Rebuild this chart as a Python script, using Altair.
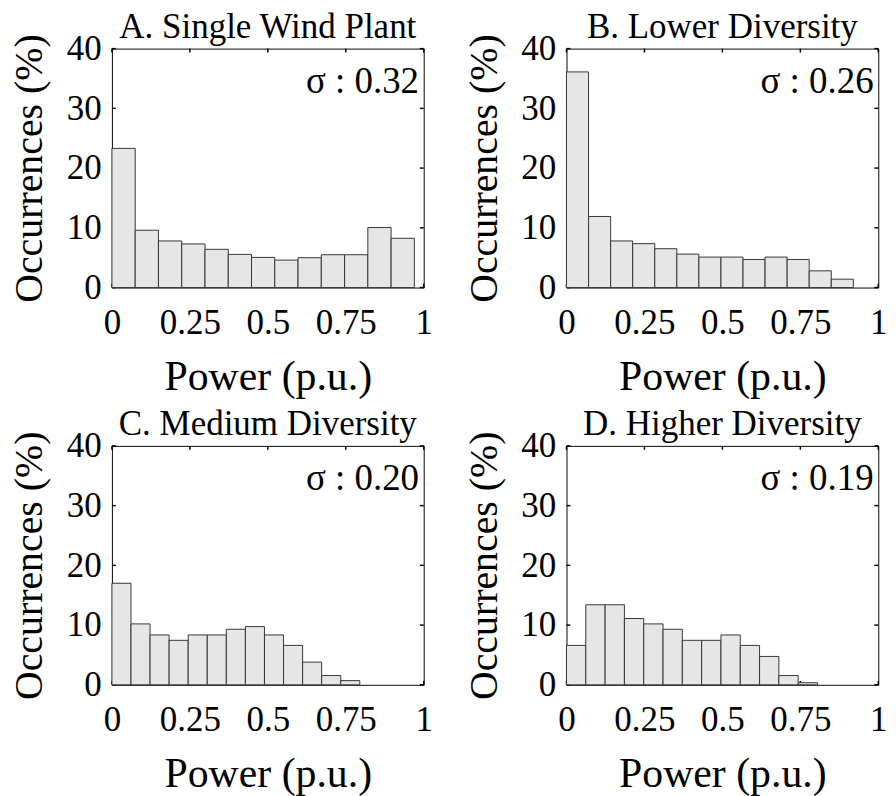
import altair as alt
import pandas as pd

FONT = "Liberation Serif"

titles = ["A. Single Wind Plant", "B. Lower Diversity", "C. Medium Diversity", "D. Higher Diversity"]
sigma_labels = ["σ : 0.32", "σ : 0.26", "σ : 0.20", "σ : 0.19"]
# upper end of the 13 histogram bins (p.u.) for each panel
bin_max = [0.97, 0.92, 0.795, 0.805]
N_BINS = 13

occ_a = [23.3, 9.6, 7.8, 7.3, 6.4, 5.55, 5.05, 4.6, 5.0, 5.5, 5.5, 10.05, 8.25]
occ_b = [36.1, 11.9, 7.8, 7.35, 6.5, 5.6, 5.1, 5.1, 4.7, 5.1, 4.7, 2.8, 1.4]
occ_c = [17.0, 10.2, 8.35, 7.45, 8.35, 8.35, 9.3, 9.75, 8.35, 6.6, 3.8, 1.55, 0.7]
occ_d = [6.6, 13.4, 13.4, 11.1, 10.2, 9.3, 7.45, 7.45, 8.35, 6.6, 4.75, 1.55, 0.35]
occurrences = [occ_a, occ_b, occ_c, occ_d]

x_ticks = [0, 0.25, 0.5, 0.75, 1]
y_ticks = [0, 10, 20, 30, 40]

W, H = 321, 246
TL = 4  # inward tick length


def panel(i):
    occ = occurrences[i]
    bw = bin_max[i] / N_BINS
    df = pd.DataFrame({
        "x0": [k * bw for k in range(N_BINS)],
        "x1": [(k + 1) * bw for k in range(N_BINS)],
        "occ": occ,
    })
    xs = alt.Scale(domain=[0, 1], nice=False)
    ys = alt.Scale(domain=[0, 40], nice=False)
    xax = alt.Axis(values=x_ticks, format=".2~f", title="Power (p.u.)",
                   labelFlush=False, labelOverlap=False,
                   labelPadding=19, titlePadding=17, titleFontSize=43)
    yax = alt.Axis(values=y_ticks, title="Occurrences (%)",
                   labelPadding=11, titlePadding=16, titleFontSize=41)

    yt = pd.DataFrame({"v": y_ticks})
    xt = pd.DataFrame({"v": x_ticks})
    left_t = alt.Chart(yt).mark_rule(color="black", strokeWidth=1.5).encode(
        y=alt.Y("v:Q", scale=ys, axis=yax), x=alt.value(0), x2=alt.value(TL))
    right_t = alt.Chart(yt).mark_rule(color="black", strokeWidth=1.5).encode(
        y=alt.Y("v:Q", scale=ys, axis=yax), x=alt.value(W - TL), x2=alt.value(W))
    top_t = alt.Chart(xt).mark_rule(color="black", strokeWidth=1.5).encode(
        x=alt.X("v:Q", scale=xs, axis=xax), y=alt.value(0), y2=alt.value(TL))
    bot_t = alt.Chart(xt).mark_rule(color="black", strokeWidth=1.5).encode(
        x=alt.X("v:Q", scale=xs, axis=xax), y=alt.value(H - TL), y2=alt.value(H))

    bars = alt.Chart(df).mark_rect(fill="#e6e6e6", stroke="#333333", strokeWidth=1).encode(
        x=alt.X("x0:Q", scale=xs, axis=xax),
        x2="x1:Q",
        y=alt.Y("occ:Q", scale=ys, axis=yax),
        y2=alt.datum(0),
    )

    sig = alt.Chart(pd.DataFrame({"x": [0.985], "y": [32.6], "t": [sigma_labels[i]]})).mark_text(
        align="right", baseline="alphabetic", font=FONT, fontSize=38, color="black"
    ).encode(x=alt.X("x:Q", scale=xs, axis=xax), y=alt.Y("y:Q", scale=ys, axis=yax), text="t:N")

    return alt.layer(left_t, right_t, top_t, bot_t, bars, sig).properties(
        width=W, height=H,
        title=alt.TitleParams(titles[i], font=FONT, fontSize=36, fontWeight="normal",
                              baseline="bottom", offset=-51, frame="group", color="black"),
    )


row1 = alt.hconcat(panel(0), panel(1), spacing=31)
row2 = alt.hconcat(panel(2), panel(3), spacing=31)
chart = alt.vconcat(row1, row2, spacing=7).properties(
    padding={"left": 1, "top": -11, "right": 0, "bottom": 0}
).configure_view(
    stroke="black", strokeWidth=1
).configure_axis(
    domain=False, ticks=False, tickSize=0, grid=False,
    labelFont=FONT, labelFontSize=36, labelColor="black",
    titleFont=FONT, titleFontSize=40, titleFontWeight="normal", titleColor="black",
)

chart.save("out.html", embed_options={"renderer": "svg", "actions": False})
